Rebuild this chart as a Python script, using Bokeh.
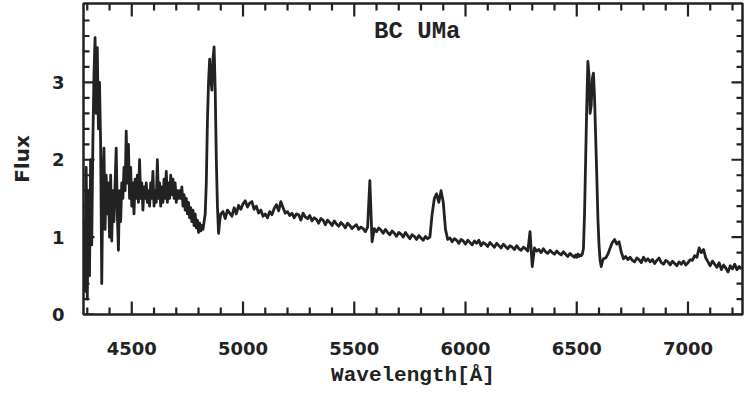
from bokeh.plotting import figure
from bokeh.models import ColumnDataSource, Range1d, LinearAxis, FixedTicker, Label
from bokeh.embed import file_html
from bokeh.resources import INLINE

# ---------------- data ----------------
object_name = "BC UMa"
x_label = "Wavelength[Å]"
y_label = "Flux"

x_major_ticks = [4500, 5000, 5500, 6000, 6500, 7000]
x_minor_ticks = [4300, 4400, 4600, 4700, 4800, 4900, 5100, 5200, 5300, 5400,
                 5600, 5700, 5800, 5900, 6100, 6200, 6300, 6400, 6600, 6700,
                 6800, 6900, 7100, 7200]
y_major_ticks = [0, 1, 2, 3]
y_minor_ticks = [0.2, 0.4, 0.6, 0.8, 1.2, 1.4, 1.6, 1.8, 2.2, 2.4, 2.6, 2.8,
                 3.2, 3.4, 3.6, 3.8]

# segment A: 4285 .. 4900 A, every 5 A (blue end, H-gamma, H-beta)
seg_a_start, seg_a_step = 4285, 5
seg_a_flux = [
    1.2, 0.3, 1.9, 0.2, 1.6, 0.5, 2.0, 0.9, 2.2,              # 4285-4325
    3.1, 3.58, 2.6, 3.45, 2.4, 3.0, 2.2, 0.4,                 # 4330-4365
    1.7, 2.15, 1.1, 1.8, 1.3, 1.7, 1.0, 1.8, 0.95, 1.6,       # 4370-4415
    1.2, 1.7, 2.15, 1.3, 0.83, 1.6, 1.2, 1.7, 1.5, 1.9,       # 4420-4465
    1.6, 2.37, 1.7, 2.2, 1.5, 1.9, 1.4, 1.7, 1.3, 1.75,       # 4470-4515
    1.5, 1.8, 1.45, 2.0, 1.5, 1.7, 1.35, 1.65, 1.5, 1.7,      # 4520-4565
    1.45, 1.6, 1.4, 1.7, 1.5, 1.85, 1.4, 1.6, 1.45, 2.0,      # 4570-4615
    1.5, 1.7, 1.4, 1.65, 1.45, 1.75, 1.5, 1.85, 1.45, 1.7,    # 4620-4665
    1.5, 1.8, 1.55, 1.75, 1.5, 1.7, 1.45, 1.6, 1.5, 1.6,      # 4670-4715
    1.5, 1.65, 1.4, 1.55, 1.35, 1.5, 1.3, 1.45, 1.25, 1.38,   # 4720-4765
    1.2, 1.35, 1.15, 1.3, 1.12, 1.22, 1.06, 1.18, 1.08, 1.15, # 4770-4815
    1.1, 1.2, 1.3, 1.7, 2.5, 3.0, 3.3, 3.05, 2.9, 3.3,        # 4820-4865
    3.46, 2.9, 2.0, 1.4, 1.05, 1.2, 1.3,                      # 4870-4900
]

# segment B: 4910 .. 6490 A, every 10 A (continuum, sky lines, He I 5876)
seg_b_start, seg_b_step = 4910, 10
seg_b_flux = [
    1.33, 1.24, 1.35, 1.31, 1.27, 1.38, 1.30, 1.41, 1.36, 1.43,  # 4910-5000
    1.47, 1.39, 1.44, 1.46, 1.36, 1.40, 1.31, 1.35, 1.27, 1.30,  # 5010-5100
    1.25, 1.33, 1.29, 1.37, 1.42, 1.34, 1.46, 1.38, 1.31, 1.33,  # 5110-5200
    1.28, 1.31, 1.25, 1.30, 1.29, 1.22, 1.31, 1.26, 1.24, 1.28,  # 5210-5300
    1.21, 1.25, 1.23, 1.18, 1.24, 1.22, 1.16, 1.22, 1.19, 1.15,  # 5310-5400
    1.21, 1.17, 1.14, 1.19, 1.16, 1.12, 1.18, 1.15, 1.11, 1.14,  # 5410-5500
    1.16, 1.10, 1.13, 1.11, 1.07, 1.13, 1.73, 0.94, 1.11, 1.07,  # 5510-5600
    1.12, 1.09, 1.05, 1.10, 1.06, 1.03, 1.08, 1.05, 1.01, 1.06,  # 5610-5700
    1.04, 1.00, 1.06, 1.02, 0.98, 1.03, 1.01, 0.97, 1.02, 0.99,  # 5710-5800
    0.96, 1.01, 0.98, 1.00, 1.30, 1.50, 1.56, 1.45, 1.60, 1.45,  # 5810-5900
    1.10, 0.97, 0.99, 0.94, 0.98, 0.96, 0.92, 0.97, 0.95, 0.91,  # 5910-6000
    0.96, 0.93, 0.90, 0.95, 0.92, 0.96, 0.89, 0.93, 0.91, 0.88,  # 6010-6100
    0.93, 0.90, 0.87, 0.92, 0.89, 0.86, 0.91, 0.88, 0.85, 0.89,  # 6110-6200
    0.87, 0.84, 0.89, 0.85, 0.83, 0.87, 0.85, 0.82, 1.07, 0.62,  # 6210-6300
    0.86, 0.82, 0.84, 0.80, 0.85, 0.81, 0.79, 0.83, 0.80, 0.78,  # 6310-6400
    0.82, 0.79, 0.77, 0.81, 0.78, 0.75, 0.79, 0.76, 0.74,        # 6410-6490
]

# segment C: 6495 .. 6620 A, every 5 A (H-alpha)
seg_c_start, seg_c_step = 6495, 5
seg_c_flux = [
    0.77, 0.74, 0.78, 0.75, 0.77, 0.76, 0.78, 0.85, 1.30, 2.00,  # 6495-6540
    2.70, 3.27, 3.10, 2.60, 2.70, 3.05, 3.12, 2.80, 2.30, 1.80,  # 6545-6590
    1.25, 0.90, 0.70, 0.62, 0.68, 0.72,                          # 6595-6620
]

# segment D: 6630 .. 7240 A, every 10 A (He I 6678, He I 7065, red end)
seg_d_start, seg_d_step = 6630, 10
seg_d_flux = [
    0.73, 0.78, 0.86, 0.93, 0.97, 0.91, 0.94, 0.81, 0.72, 0.75,  # 6630-6720
    0.71, 0.74, 0.70, 0.68, 0.73, 0.71, 0.67, 0.74, 0.69, 0.72,  # 6730-6820
    0.68, 0.71, 0.66, 0.70, 0.73, 0.67, 0.65, 0.70, 0.68, 0.64,  # 6830-6920
    0.69, 0.66, 0.63, 0.68, 0.65, 0.69, 0.64, 0.67, 0.71, 0.70,  # 6930-7020
    0.76, 0.74, 0.86, 0.80, 0.84, 0.73, 0.68, 0.63, 0.69, 0.65,  # 7030-7120
    0.61, 0.67, 0.58, 0.64, 0.60, 0.55, 0.63, 0.59, 0.65, 0.58,  # 7130-7220
    0.62, 0.59,                                                  # 7230-7240
]

segments = [
    (seg_a_start, seg_a_step, seg_a_flux),
    (seg_b_start, seg_b_step, seg_b_flux),
    (seg_c_start, seg_c_step, seg_c_flux),
    (seg_d_start, seg_d_step, seg_d_flux),
]

wavelength, flux = [], []
for start, step, vals in segments:
    for i, v in enumerate(vals):
        wavelength.append(start + i * step)
        flux.append(v)

# ---------------- styling ----------------
X0, X1 = 4283, 7245
Y0, Y1 = 0, 4.02
TITLE_X, TITLE_Y = 5783, 3.66
INK = "#222222"
TICK_FONT = "DejaVu Sans"
LABEL_FONT = "Liberation Mono"
W, H = 746, 395
BORDER_L, BORDER_R, BORDER_T, BORDER_B = 83, 4, 3, 81
FRAME_W = W - BORDER_L - BORDER_R
FRAME_H = H - BORDER_T - BORDER_B
MAJ_X, MIN_X = 13, 7     # inward tick lengths (px) on bottom/top
MAJ_Y, MIN_Y = 11, 6     # inward tick lengths (px) on left/right

p = figure(width=W, height=H, output_backend="svg", toolbar_location=None,
           x_range=Range1d(X0, X1), y_range=Range1d(Y0, Y1),
           min_border_left=BORDER_L, min_border_right=BORDER_R,
           min_border_top=BORDER_T, min_border_bottom=BORDER_B,
           x_axis_location=None, y_axis_location=None,
           background_fill_color="white", border_fill_color="white")
p.grid.visible = False
p.outline_line_color = INK
p.outline_line_width = 2.5

src = ColumnDataSource(dict(wavelength=wavelength, flux=flux))
p.line("wavelength", "flux", source=src, line_color=INK, line_width=2.8,
       line_join="round")

# inward tick marks on all four sides (one broken line, NaN separates ticks);
# tick lengths are converted from pixels to data units
nan = float("nan")
dx_px = (X1 - X0) / FRAME_W
dy_px = (Y1 - Y0) / FRAME_H
tick_x, tick_y = [], []
for ticks, length in ((x_major_ticks, MAJ_X), (x_minor_ticks, MIN_X)):
    for t in ticks:
        tick_x += [t, t, nan, t, t, nan]
        tick_y += [Y0, Y0 + length * dy_px, nan, Y1, Y1 - length * dy_px, nan]
for ticks, length in ((y_major_ticks, MAJ_Y), (y_minor_ticks, MIN_Y)):
    for t in ticks:
        tick_x += [X0, X0 + length * dx_px, nan, X1, X1 - length * dx_px, nan]
        tick_y += [t, t, nan, t, t, nan]
tick_src = ColumnDataSource(dict(x=tick_x, y=tick_y))
p.line("x", "y", source=tick_src, line_color=INK, line_width=2.2)


def plain_axis(ax):
    ax.axis_line_color = None
    ax.major_tick_line_color = None
    ax.minor_tick_line_color = None
    ax.major_tick_out = 0
    ax.major_tick_in = 0
    ax.minor_tick_out = 0
    ax.minor_tick_in = 0


xb = LinearAxis(ticker=FixedTicker(ticks=x_major_ticks))
plain_axis(xb)
xb.axis_label = x_label
xb.axis_label_text_font = LABEL_FONT
xb.axis_label_text_font_style = "bold"
xb.axis_label_text_font_size = "21px"
xb.axis_label_text_color = INK
xb.axis_label_standoff = 6
xb.major_label_text_font = TICK_FONT
xb.major_label_text_font_style = "bold"
xb.major_label_text_font_size = "18px"
xb.major_label_text_color = INK
xb.major_label_standoff = 27
p.add_layout(xb, "below")

yl = LinearAxis(ticker=FixedTicker(ticks=y_major_ticks))
plain_axis(yl)
yl.axis_label = y_label
yl.axis_label_text_font = TICK_FONT
yl.axis_label_text_font_style = "bold"
yl.axis_label_text_font_size = "20px"
yl.axis_label_text_color = INK
yl.axis_label_standoff = 15
yl.major_label_text_font = TICK_FONT
yl.major_label_text_font_style = "bold"
yl.major_label_text_font_size = "18px"
yl.major_label_text_color = INK
yl.major_label_standoff = 19
yl.major_label_orientation = "horizontal"
p.add_layout(yl, "left")

p.add_layout(Label(x=TITLE_X, y=TITLE_Y, text=object_name,
                   text_font=LABEL_FONT, text_font_style="bold",
                   text_font_size="24px", text_color=INK,
                   text_align="center", text_baseline="middle"))

open("out.html", "w").write(file_html(p, INLINE, title="BC UMa spectrum"))
